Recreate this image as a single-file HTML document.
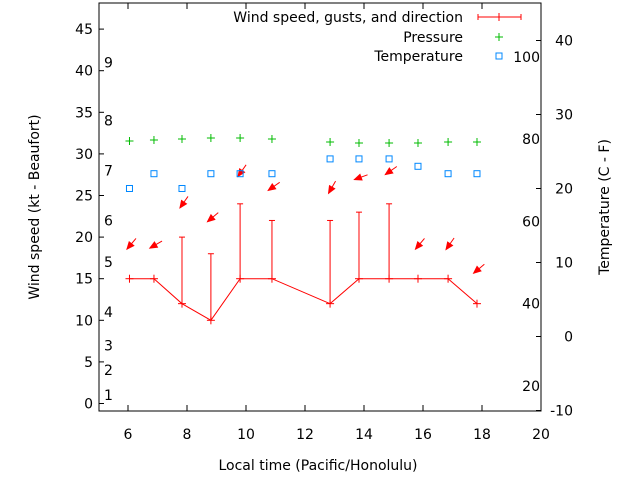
<!DOCTYPE html>
<html><head><meta charset="utf-8"><style>
html,body{margin:0;padding:0;background:#fff}
svg{display:block;font-family:"DejaVu Sans","Liberation Sans",sans-serif;font-size:14px}
</style></head><body>
<svg id="chart" width="640" height="480" viewBox="0 0 640 480">
<rect x="0" y="0" width="640" height="480" fill="#fff"/>
<g id="marks"></g>
<g id="axes"></g>
<rect x="99" y="3" width="442" height="408" fill="none" stroke="#000" stroke-width="1"/>
<text x="39" y="207" transform="rotate(-90 39 207)" text-anchor="middle">Wind speed (kt - Beaufort)</text>
<text x="609" y="207" transform="rotate(-90 609 207)" text-anchor="middle">Temperature (C - F)</text>
<text x="318" y="470" text-anchor="middle">Local time (Pacific/Honolulu)</text>
<g>
<text x="463" y="22" text-anchor="end">Wind speed, gusts, and direction</text>
<g stroke="red" stroke-width="1">
<line x1="478" y1="17" x2="521" y2="17"/><line x1="478" y1="14" x2="478" y2="20"/><line x1="521" y1="14" x2="521" y2="20"/><line x1="499" y1="13" x2="499" y2="21"/></g>
<text x="463" y="42" text-anchor="end">Pressure</text>
<g stroke="#0b0" stroke-width="1"><line x1="495" y1="37" x2="503" y2="37"/><line x1="499" y1="33" x2="499" y2="41"/></g>
<text x="463" y="61" text-anchor="end">Temperature</text>
<rect x="496" y="53" width="6" height="6" fill="none" stroke="#08f"/>
</g>
</svg>
<script>
const times=[6.05,6.88,7.83,8.81,9.8,10.88,12.85,13.83,14.85,15.83,16.85,17.83];
const wind=[15,15,12,10,15,15,12,15,15,15,15,12];
const gusts=[null,null,20,18,24,22,22,23,24,null,null,null];
const arrowLevel=[19.2,19.1,24.2,22.4,28.0,26.1,26.0,27.2,28.0,19.2,19.2,16.2];
const windDir=[40,60,35,50,35,55,30,70,55,40,35,50];
const pressure=[1015.6,1015.8,1016.0,1016.2,1016.2,1016.0,1015.4,1015.2,1015.2,1015.2,1015.4,1015.4];
const tempC=[20,22,20,22,22,22,24,24,24,23,22,22];
const xTicks=[6,8,10,12,14,16,18,20];
const ktTicks=[0,5,10,15,20,25,30,35,40,45];
const cTicks=[-10,0,10,20,30,40];
const fTicks=[20,40,60,80,100];
const beaufortLabels=["1","2","3","4","5","6","7","8","9"];
const beaufortPos=[1,4,7,11,17,22,28,34,41];

const NS="http://www.w3.org/2000/svg";
const X=h=>128+(h-6)*29.5;
const Y=k=>403.5-k*8.32;
const YC=c=>336.5-c*7.4;
const YF=f=>YC((f-32)*5/9);
const YP=p=>141-(p-1015.6)*5;
const marks=document.getElementById('marks');
const axes=document.getElementById('axes');
function mk(tag,attrs,parent){const e=document.createElementNS(NS,tag);for(const k in attrs)e.setAttribute(k,attrs[k]);parent.appendChild(e);return e;}

xTicks.forEach(t=>{
  const x=X(t);
  const g=mk('g',{},axes);
  
  
  mk('line',{x1:x,y1:411,x2:x,y2:405,stroke:'#000'},g);
  mk('line',{x1:x,y1:3,x2:x,y2:9,stroke:'#000'},g);
  const tx=mk('text',{x:x,y:439,'text-anchor':'middle'},g);tx.textContent=t;
});
ktTicks.forEach(t=>{
  const y=Y(t);
  const g=mk('g',{},axes);
  
  
  mk('line',{x1:99,y1:y,x2:104,y2:y,stroke:'#000'},g);
  const tx=mk('text',{x:93,y:y+5,'text-anchor':'end'},g);tx.textContent=t;
});
cTicks.forEach(t=>{
  const y=YC(t);
  const g=mk('g',{},axes);
  
  
  mk('line',{x1:541,y1:y,x2:536,y2:y,stroke:'#000'},g);
  const tx=mk('text',{x:573,y:y+5,'text-anchor':'end'},g);tx.textContent=t;
});
fTicks.forEach(t=>{
  const tx=mk('text',{x:540,y:YF(t)+5,'text-anchor':'end'},axes);
  
  
  tx.textContent=t;
});
beaufortLabels.forEach((b,i)=>{
  const tx=mk('text',{x:104,y:Y(beaufortPos[i])+5},axes);
  
  
  tx.textContent=b;
});

const pl=mk('polyline',{points:times.map((t,i)=>X(t)+','+Y(wind[i])).join(' '),fill:'none',stroke:'red','stroke-width':1},marks);


times.forEach((t,i)=>{
  const x=X(t),y=Y(wind[i]);
  const g=mk('g',{stroke:'red','stroke-width':1},marks);
  
  
  mk('line',{x1:x-4,y1:y,x2:x+4,y2:y},g);
  mk('line',{x1:x,y1:y-4,x2:x,y2:y+4},g);
  if(gusts[i]!==null){
    const gy=Y(gusts[i]);
    mk('line',{x1:x,y1:y,x2:x,y2:gy},g);
    mk('line',{x1:x-3,y1:gy,x2:x+3,y2:gy},g);
  }
  const d=windDir[i]*Math.PI/180;
  const vx=-Math.sin(d),vy=Math.cos(d);
  const cx=x+2,cy=Y(arrowLevel[i]);
  const L=7;
  const hx=cx+vx*L,hy=cy+vy*L,tx=cx-vx*L,ty=cy-vy*L;
  const a=mk('g',{},marks);
  
  
  mk('line',{x1:tx,y1:ty,x2:hx,y2:hy,stroke:'red','stroke-width':1},a);
  const bx=hx-vx*7,by=hy-vy*7,px=-vy*3,py=vx*3;
  mk('polygon',{points:`${hx},${hy} ${bx+px},${by+py} ${bx-px},${by-py}`,fill:'red',stroke:'red'},a);
});
pressure.forEach((p,i)=>{
  const x=X(times[i]),y=YP(p);
  const g=mk('g',{stroke:'#0b0','stroke-width':1},marks);
  
  
  mk('line',{x1:x-4,y1:y,x2:x+4,y2:y},g);
  mk('line',{x1:x,y1:y-4,x2:x,y2:y+4},g);
});
tempC.forEach((c,i)=>{
  const r=mk('rect',{x:X(times[i])-3,y:YC(c)-3,width:6,height:6,fill:'none',stroke:'#08f','stroke-width':1},marks);
  
  
});
</script>
</body></html>
